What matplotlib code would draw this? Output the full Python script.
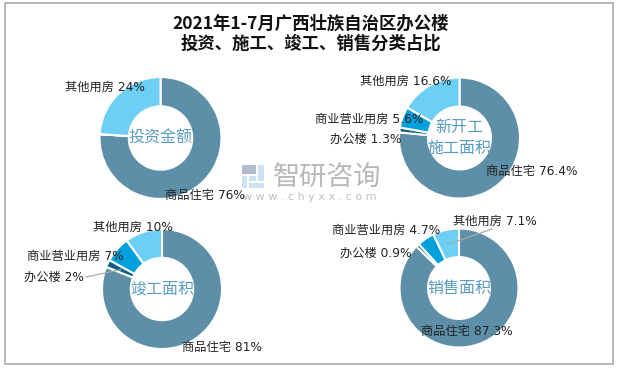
import matplotlib
matplotlib.use("Agg")
import matplotlib.pyplot as plt
from matplotlib.patches import Rectangle
import numpy as np

# ---- data ----
title_lines = ["2021年1-7月广西壮族自治区办公楼", "投资、施工、竣工、销售分类占比"]
categories = ["商品住宅", "办公楼", "商业营业用房", "其他用房"]
invest_values = [76, 0, 0, 24]
newstart_values = [76.4, 1.3, 5.6, 16.6]
completed_values = [81, 2, 7, 10]
sales_values = [87.3, 0.9, 4.7, 7.1]
invest_labels = ["76%", "", "", "24%"]
newstart_labels = ["76.4%", "1.3%", "5.6%", "16.6%"]
completed_labels = ["81%", "2%", "7%", "10%"]
sales_labels = ["87.3%", "0.9%", "4.7%", "7.1%"]
center_titles = ["投资金额", "新开工\n施工面积", "竣工面积", "销售面积"]

colors = ["#5D90A8", "#0E5F86", "#00A0DC", "#6DCFF6"]

W, H = 623, 370
fig = plt.figure(figsize=(W / 100, H / 100), dpi=100)
ax = fig.add_axes([0, 0, 1, 1])
FAM = ["DejaVu Sans", "Noto Sans CJK SC"]


def Y(y):
    return H - y


# border
ax.add_patch(Rectangle((5, Y(364)), 608, 361, fill=False, edgecolor="#aaaaaa", lw=1.2))

# title
ax.text(311, Y(24), title_lines[0], ha="center", va="center", fontsize=12.5,
        family=["Noto Sans CJK SC"], weight="bold", color="#111111")
ax.text(311, Y(44), title_lines[1], ha="center", va="center", fontsize=12.5,
        family=["Noto Sans CJK SC"], weight="bold", color="#111111")

# watermark
ax.text(273, Y(177), "智研咨询", ha="left", va="center", fontsize=19.5,
        family=["Noto Sans CJK SC"], color="#b8b8b8")
ax.text(243, Y(197), "w w w . c h y x x . c o m", ha="left", va="center", fontsize=8,
        family=["DejaVu Sans"], color="#c0c0c0")
lb, gb = "#cfe2f3", "#b3bccd"
ax.add_patch(Rectangle((242, Y(174)), 14, 9, color=gb, lw=0))
ax.add_patch(Rectangle((242, Y(188)), 5, 12, color=lb, lw=0))
ax.add_patch(Rectangle((249, Y(188)), 15, 5, color=lb, lw=0))
ax.add_patch(Rectangle((258, Y(181)), 6, 16, color=lb, lw=0))
ax.add_patch(Rectangle((249, Y(181)), 7, 5, color=lb, lw=0))

datasets = [
    (invest_values, invest_labels, (160.5, 138), 61),
    (newstart_values, newstart_labels, (459.5, 138), 60.5),
    (completed_values, completed_labels, (162, 289), 60),
    (sales_values, sales_labels, (459, 288), 59.5),
]

# label anchor positions (left x, center y) per donut and category
label_pos = [
    {0: (165, 195), 3: (65, 87)},
    {0: (486, 172), 1: (330, 139), 2: (315, 119), 3: (360, 81)},
    {0: (182, 347), 1: (24, 277), 2: (27, 256), 3: (93, 227)},
    {0: (421, 332), 1: (340, 253), 2: (332, 230), 3: (453, 221)},
]

for i, (vals, labs, (cx, cy), r) in enumerate(datasets):
    wedges, _ = ax.pie(vals, colors=colors, radius=r, center=(cx, Y(cy)), startangle=90,
                       counterclock=False, frame=True,
                       wedgeprops=dict(width=r * 0.48, edgecolor="white", linewidth=1.5))
    ax.text(cx, Y(cy), center_titles[i], ha="center", va="center", fontsize=11.5,
            family=["Noto Sans CJK SC"], color="#5A9CC0", linespacing=1.25)
    for k, v in enumerate(vals):
        if v == 0:
            continue
        lx, ly = label_pos[i][k]
        ax.text(lx, Y(ly), f"{categories[k]} {labs[k]}", ha="left", va="center",
                fontsize=8.8, family=FAM, color="#222222")

# leader lines
w = completed_values
start = 90 - 360 * (w[0] + w[1] / 2) / sum(w)
cx, cy, r = 162, 289, 60
rr = r * 0.76
ax.plot([cx + rr * np.cos(np.radians(start)), 86], [Y(cy) + rr * np.sin(np.radians(start)), Y(277)],
        color="#aaaaaa", lw=0.9)
w = sales_values
ang = 90 - 360 * (w[0] + w[1] + w[2] + w[3] / 2) / sum(w)
cx, cy, r = 459, 288, 59.5
rr = r * 0.76
ax.plot([cx + rr * np.cos(np.radians(ang)), 492], [Y(cy) + rr * np.sin(np.radians(ang)), Y(229)],
        color="#aaaaaa", lw=0.9)

ax.set_xlim(0, W)
ax.set_ylim(0, H)
ax.set_aspect("equal")
ax.axis("off")
fig.savefig("out.png", dpi=100, facecolor="white")
